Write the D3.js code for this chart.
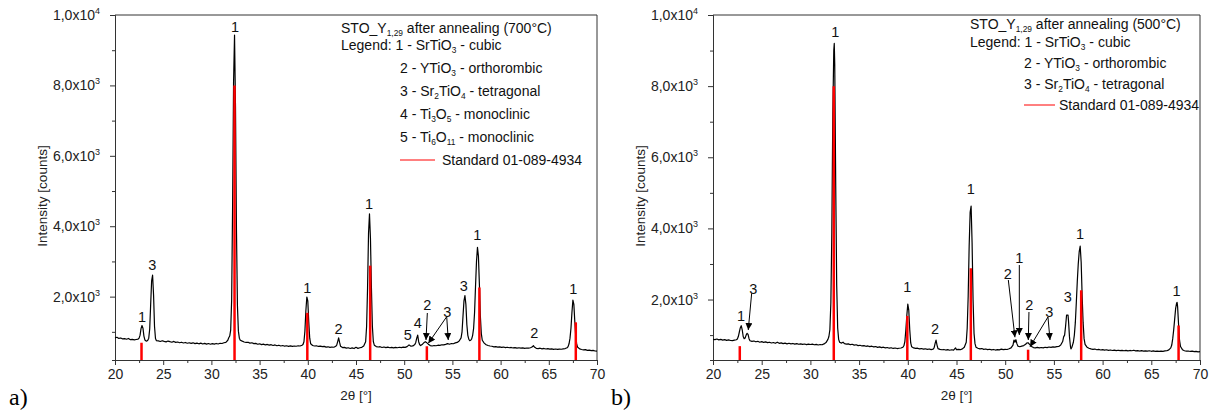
<!DOCTYPE html>
<html>
<head>
<meta charset="utf-8">
<script src="https://cdn.jsdelivr.net/npm/d3@7"></script>
<style>
body { margin: 0; background: #fff; }
svg { display: block; font-family: "Liberation Sans", Arial, sans-serif; }
</style>
</head>
<body>
<script>
// x ticks (2theta) and y ticks (intensity)
const xTicks = [20, 25, 30, 35, 40, 45, 50, 55, 60, 65, 70];
const xMinorTicks = [22.5, 27.5, 32.5, 37.5, 42.5, 47.5, 52.5, 57.5, 62.5, 67.5];
const yTicks = [2000, 4000, 6000, 8000, 10000];
const yMinorTicks = [1000, 3000, 5000, 7000, 9000];
const yTickMantissa = ["2,0", "4,0", "6,0", "8,0", "1,0"];
const yTickExp = ["3", "3", "3", "3", "4"];

// standard 01-089-4934 (SrTiO3) sticks
const stdTheta = [22.75, 32.4, 39.95, 46.47, 52.35, 57.8, 67.8];
const stdIntensity = [690, 8000, 1540, 2880, 590, 2260, 1270];

// measured scan, panel a (700°C)
const scanA = [
[20.0,830],[20.2,845],[20.4,812],[20.6,826],[20.8,798],[21.0,805],[21.2,790],[21.4,812],[21.6,778],[21.8,786],
[22.0,770],[22.2,782],[22.4,795],[22.5,820],[22.6,905],[22.7,1090],[22.8,1180],[22.9,1105],[23.0,880],[23.1,770],
[23.2,745],[23.3,738],[23.4,760],[23.5,820],[23.6,1080],[23.7,1780],[23.8,2450],[23.9,2610],[24.0,2050],[24.1,1150],
[24.2,810],[24.3,750],[24.5,742],[24.7,725],[24.9,748],[25.1,730],[25.3,715],[25.5,738],[25.7,720],[25.9,705],
[26.1,728],[26.3,700],[26.5,712],[26.7,690],[26.9,705],[27.1,684],[27.3,698],[27.5,676],[27.7,690],[27.9,672],
[28.1,688],[28.3,664],[28.5,680],[28.7,660],[28.9,678],[29.1,655],[29.3,672],[29.5,650],[29.7,668],[29.9,648],
[30.1,664],[30.3,652],[30.5,670],[30.7,655],[30.9,676],[31.1,668],[31.3,690],[31.5,702],[31.7,760],[31.8,830],
[31.9,880],[32.0,1050],[32.1,1900],[32.2,4600],[32.3,8100],[32.4,9430],[32.5,7400],[32.6,3900],[32.7,1750],[32.8,1020],
[32.9,820],[33.0,760],[33.2,735],[33.4,712],[33.6,698],[33.8,705],[34.0,680],[34.2,690],[34.4,665],[34.6,672],
[34.8,648],[35.0,660],[35.2,638],[35.4,650],[35.6,628],[35.8,642],[36.0,622],[36.2,635],[36.4,612],[36.6,628],
[36.8,605],[37.0,620],[37.2,598],[37.4,612],[37.6,592],[37.8,605],[38.0,588],[38.2,600],[38.4,585],[38.6,598],
[38.8,590],[39.0,605],[39.2,598],[39.4,620],[39.5,640],[39.6,720],[39.7,1020],[39.8,1600],[39.9,1990],[40.0,1880],
[40.1,1280],[40.2,820],[40.3,660],[40.5,612],[40.7,598],[40.9,605],[41.1,585],[41.3,596],[41.5,578],[41.7,588],
[41.9,566],[42.1,575],[42.3,558],[42.5,570],[42.7,562],[42.9,590],[43.0,620],[43.1,720],[43.2,830],[43.3,700],
[43.4,590],[43.6,552],[43.8,560],[44.0,538],[44.2,548],[44.4,528],[44.6,545],[44.8,525],[45.0,560],[45.2,530],
[45.4,548],[45.6,560],[45.8,600],[46.0,720],[46.1,1150],[46.2,2250],[46.3,3800],[46.4,4350],[46.5,3650],[46.6,2250],
[46.7,1150],[46.8,720],[46.9,620],[47.1,582],[47.3,570],[47.5,578],[47.7,556],[47.9,570],[48.1,552],[48.3,565],
[48.5,548],[48.7,560],[48.9,545],[49.1,558],[49.3,548],[49.5,562],[49.7,552],[49.9,566],[50.1,558],[50.3,580],
[50.5,630],[50.7,590],[50.9,600],[51.1,640],[51.2,700],[51.3,820],[51.4,905],[51.5,720],[51.6,640],[51.7,610],
[51.9,650],[52.0,680],[52.1,705],[52.2,720],[52.3,700],[52.5,650],[52.7,610],[52.9,598],[53.1,612],[53.3,605],
[53.5,620],[53.7,615],[53.9,632],[54.1,628],[54.3,645],[54.5,665],[54.7,648],[54.9,668],[55.1,662],[55.3,685],
[55.5,700],[55.7,740],[55.9,830],[56.0,1000],[56.1,1450],[56.2,1880],[56.3,2030],[56.4,1780],[56.5,1200],[56.6,900],
[56.7,790],[56.8,750],[56.9,760],[57.0,800],[57.1,900],[57.2,1100],[57.3,1550],[57.4,2300],[57.5,3000],[57.6,3400],
[57.7,3150],[57.8,2350],[57.9,1450],[58.0,950],[58.1,760],[58.3,680],[58.5,635],[58.7,612],[58.9,598],[59.1,590],
[59.3,575],[59.5,582],[59.7,566],[59.9,574],[60.1,560],[60.3,568],[60.5,552],[60.7,562],[60.9,548],[61.1,556],
[61.3,542],[61.5,552],[61.7,538],[61.9,548],[62.1,535],[62.3,545],[62.5,530],[62.7,540],[62.9,535],[63.1,548],
[63.3,575],[63.4,605],[63.5,570],[63.7,532],[63.9,525],[64.1,535],[64.3,518],[64.5,528],[64.7,512],[64.9,522],
[65.1,508],[65.3,518],[65.5,502],[65.7,512],[65.9,500],[66.1,510],[66.3,505],[66.5,518],[66.7,525],[66.9,548],
[67.0,580],[67.1,660],[67.2,820],[67.3,1100],[67.4,1550],[67.5,1900],[67.6,1780],[67.7,1280],[67.8,860],[67.9,640],
[68.0,560],[68.2,515],[68.4,498],[68.6,488],[68.8,495],[69.0,475],[69.2,482],[69.4,465],[69.6,472],[69.8,455],[70.0,450]
];

// measured scan, panel b (500°C)
const scanB = [
[20.0,880],[20.2,872],[20.4,890],[20.6,865],[20.8,878],[21.0,860],[21.2,874],[21.4,852],[21.6,866],[21.8,848],
[22.0,845],[22.2,858],[22.4,870],[22.5,890],[22.6,960],[22.7,1080],[22.8,1200],[22.9,1265],[23.0,1150],[23.1,960],
[23.2,900],[23.3,920],[23.4,1000],[23.5,1050],[23.6,1020],[23.7,900],[23.8,840],[24.0,822],[24.2,835],[24.4,812],
[24.6,825],[24.8,800],[25.0,815],[25.2,795],[25.4,808],[25.6,788],[25.8,800],[26.0,778],[26.2,792],[26.4,770],
[26.6,800],[26.8,768],[27.0,780],[27.2,760],[27.4,774],[27.6,755],[27.8,770],[28.0,752],[28.2,765],[28.4,745],
[28.6,760],[28.8,742],[29.0,755],[29.2,738],[29.4,750],[29.6,732],[29.8,748],[30.0,735],[30.2,745],[30.4,728],
[30.6,740],[30.8,722],[31.0,735],[31.2,728],[31.4,752],[31.6,790],[31.8,880],[31.9,960],[32.0,1150],[32.1,1900],
[32.2,3900],[32.3,7200],[32.4,9000],[32.45,9200],[32.5,8600],[32.6,5200],[32.7,2400],[32.8,1200],[32.9,880],[33.0,800],
[33.2,775],[33.35,800],[33.5,760],[33.7,745],[33.9,752],[34.1,730],[34.3,742],[34.5,718],[34.7,728],[34.9,705],
[35.1,715],[35.3,695],[35.5,705],[35.7,685],[35.9,695],[36.1,675],[36.3,688],[36.5,668],[36.7,678],[36.9,655],
[37.1,668],[37.3,648],[37.5,660],[37.7,640],[37.9,652],[38.1,632],[38.3,645],[38.5,625],[38.7,638],[38.9,622],
[39.1,630],[39.3,638],[39.5,660],[39.6,700],[39.7,820],[39.8,1150],[39.9,1550],[40.0,1870],[40.1,1700],[40.2,1150],
[40.3,780],[40.4,670],[40.6,640],[40.8,625],[41.0,632],[41.2,612],[41.4,622],[41.6,605],[41.8,615],[42.0,598],
[42.2,610],[42.4,592],[42.6,605],[42.7,640],[42.8,760],[42.9,860],[43.0,720],[43.1,620],[43.3,598],[43.5,588],
[43.7,596],[43.9,580],[44.1,590],[44.3,575],[44.5,588],[44.7,580],[44.9,640],[45.0,590],[45.2,598],[45.4,590],
[45.6,612],[45.8,660],[46.0,800],[46.1,1200],[46.2,2100],[46.3,3500],[46.4,4450],[46.5,4630],[46.6,3600],[46.7,2000],
[46.8,1050],[46.9,760],[47.0,660],[47.2,630],[47.4,612],[47.6,622],[47.8,600],[48.0,610],[48.2,590],[48.4,602],
[48.6,585],[48.8,596],[49.0,580],[49.2,592],[49.4,585],[49.6,605],[49.8,590],[50.0,600],[50.2,595],[50.4,615],
[50.6,640],[50.8,720],[50.9,860],[51.0,800],[51.1,870],[51.2,760],[51.3,690],[51.5,672],[51.7,690],[51.9,705],
[52.1,740],[52.2,775],[52.35,785],[52.5,740],[52.7,680],[52.9,650],[53.1,640],[53.3,655],[53.5,642],[53.7,652],
[53.9,640],[54.1,658],[54.3,648],[54.5,665],[54.7,655],[54.9,668],[55.1,660],[55.3,675],[55.5,680],[55.7,720],
[55.9,820],[56.0,950],[56.1,1000],[56.2,1250],[56.3,1560],[56.45,1565],[56.5,1400],[56.6,950],[56.7,680],[56.75,610],
[56.85,660],[57.0,800],[57.1,1000],[57.2,1350],[57.3,1900],[57.4,2500],[57.5,3000],[57.6,3350],[57.7,3500],[57.8,3050],
[57.9,2100],[58.0,1350],[58.1,900],[58.2,740],[58.4,660],[58.6,630],[58.8,612],[59.0,600],[59.2,608],[59.4,588],
[59.6,598],[59.8,582],[60.0,592],[60.2,578],[60.4,588],[60.6,572],[60.8,582],[61.0,568],[61.2,578],[61.4,565],
[61.6,575],[61.8,562],[62.0,572],[62.2,560],[62.4,570],[62.6,558],[62.8,568],[63.0,560],[63.2,575],[63.4,558],
[63.6,565],[63.8,552],[64.0,562],[64.2,548],[64.4,558],[64.6,550],[64.8,560],[65.0,545],[65.2,555],[65.4,542],
[65.6,552],[65.8,545],[66.0,548],[66.2,545],[66.4,555],[66.6,560],[66.8,585],[67.0,640],[67.1,720],[67.2,900],
[67.3,1150],[67.4,1450],[67.5,1750],[67.6,1900],[67.65,1920],[67.7,1800],[67.8,1300],[67.9,850],[68.0,680],[68.2,590],
[68.4,560],[68.6,548],[68.8,552],[69.0,540],[69.2,548],[69.4,535],[69.6,542],[69.8,530],[70.0,535]
];

// peak labels: text, 2theta, intensity
const peakLabelsA = [
  ["1", 22.8, 1430], ["3", 23.87, 2900], ["1", 32.45, 9670], ["1", 39.95, 2265], ["2", 43.2, 1100],
  ["1", 46.35, 4650], ["5", 50.36, 910], ["4", 51.4, 1260], ["2", 52.4, 1760], ["3", 54.47, 1570],
  ["3", 56.17, 2310], ["1", 57.58, 3750], ["2", 63.5, 975], ["1", 67.55, 2215]
];
const peakLabelsB = [
  ["1", 22.87, 1540], ["3", 24.14, 2315], ["1", 32.56, 9530], ["1", 39.95, 2345], ["2", 42.8, 1190],
  ["1", 46.46, 5100], ["2", 50.26, 2720], ["1", 51.45, 3160], ["2", 52.48, 1845], ["3", 54.53, 1660],
  ["3", 56.42, 2065], ["1", 57.68, 3860], ["1", 67.6, 2250]
];
// arrows: from (2theta, I) to (2theta, I)
const arrowsA = [
  [52.4, 1535, 52.26, 768], [54.41, 1430, 52.5, 674], [54.41, 1430, 54.57, 768]
];
const arrowsB = [
  [23.97, 2175, 23.62, 1143], [50.32, 2549, 51.0, 938], [51.45, 2970, 51.45, 1003],
  [52.44, 1649, 52.37, 862], [54.39, 1509, 52.55, 674], [54.39, 1509, 54.6, 862]
];

// legend texts: [text, "sub" or ""] segments
const titleA = [["STO_Y", ""], ["1,29", "sub"], [" after annealing (700°C)", ""]];
const titleB = [["STO_Y", ""], ["1,29", "sub"], [" after annealing (500°C)", ""]];
const legendHead = [["Legend: 1 - SrTiO", ""], ["3", "sub"], [" - cubic", ""]];
const phasesA = [
  [["2 - YTiO", ""], ["3", "sub"], [" - orthorombic", ""]],
  [["3 - Sr", ""], ["2", "sub"], ["TiO", ""], ["4", "sub"], [" - tetragonal", ""]],
  [["4 - Ti", ""], ["3", "sub"], ["O", ""], ["5", "sub"], [" - monoclinic", ""]],
  [["5 - Ti", ""], ["6", "sub"], ["O", ""], ["11", "sub"], [" - monoclinic", ""]]
];
const phasesB = phasesA.slice(0, 2);
const stdName = "Standard 01-089-4934";

var svg = d3.select('body').append('svg')
  .attr('width', 1213)
  .attr('height', 414);

svg.append('defs').append('marker')
  .attr('id', 'arrow')
  .attr('viewBox', '0 0 10 10')
  .attr('refX', 10).attr('refY', 5)
  .attr('markerWidth', 7).attr('markerHeight', 7)
  .attr('markerUnits', 'userSpaceOnUse')
  .attr('orient', 'auto')
  .append('path')
  .attr('d', 'M0,0L10,5L0,10Z')
  .attr('fill', '#000');

function richText(sel, parts, fs) {
  let shift = 0;
  parts.forEach(function(p) {
    let t = sel.append('tspan').text(p[0]);
    if (p[1] == 'sub') {
      t.attr('font-size', fs * 0.6).attr('dy', 3 - shift);
      shift = 3;
    } else {
      t.attr('dy', -shift);
      shift = 0;
    }
  });
}

function drawPanel(p) {
  var g = svg.append('g');
  var x = d3.scaleLinear().domain([20, 70]).range([p.left, p.right]);
  var y = d3.scaleLinear().domain(p.yDomain).range([p.bottom, p.top]);

  // frame
  g.append('path')
    .attr('d', 'M' + p.left + ',' + p.top + 'H' + p.right + 'V' + p.bottom)
    .attr('fill', 'none').attr('stroke', '#333').attr('stroke-width', 1);

  // axes
  var xAxis = d3.axisBottom(x).tickValues(xTicks).tickSize(5).tickSizeOuter(0).tickPadding(4);
  var xMinor = d3.axisBottom(x).tickValues(xMinorTicks).tickSize(3).tickFormat('');
  var yAxis = d3.axisLeft(y).tickValues(yTicks).tickSize(5).tickSizeOuter(0).tickPadding(4)
    .tickFormat(function(d, i) { return yTickMantissa[i] + 'x10'; });
  var yMinor = d3.axisLeft(y).tickValues(yMinorTicks).tickSize(3).tickFormat('');

  g.append('g').attr('transform', 'translate(0,' + p.bottom + ')').call(xAxis);
  g.append('g').attr('transform', 'translate(0,' + p.bottom + ')').call(xMinor);
  var ya = g.append('g').attr('transform', 'translate(' + p.left + ',0)').call(yAxis);
  g.append('g').attr('transform', 'translate(' + p.left + ',0)').call(yMinor);
  ya.selectAll('.tick text').each(function(d, i) {
    d3.select(this).attr('dx', -6)
      .append('tspan').text(yTickExp[i])
      .attr('font-size', 9).attr('dy', -6);
  });
  g.selectAll('.domain').attr('stroke', '#333');
  g.selectAll('.tick line').attr('stroke', '#333');
  g.selectAll('.tick text').attr('font-size', 14).attr('fill', '#222')
    .attr('font-family', '"Liberation Sans", Arial, sans-serif');

  // axis titles
  g.append('text')
    .attr('x', (p.left + p.right) / 2).attr('y', 400)
    .attr('text-anchor', 'middle').attr('font-size', 13.5).attr('fill', '#222')
    .text('2θ [°]');
  g.append('text')
    .attr('transform', 'translate(' + (p.left - 68) + ',196) rotate(-90)')
    .attr('text-anchor', 'middle').attr('font-size', 13.5).attr('fill', '#222')
    .text('Intensity [counts]');

  // scan
  var line = d3.line().x(function(d) { return x(d[0]); }).y(function(d) { return y(d[1]); });
  g.append('path').datum(p.scan)
    .attr('d', line).attr('fill', 'none')
    .attr('stroke', '#000').attr('stroke-width', 1.2).attr('stroke-linejoin', 'round');

  // standard sticks
  g.selectAll('.stick').data(stdTheta).enter().append('line')
    .attr('x1', function(d) { return x(d); }).attr('x2', function(d) { return x(d); })
    .attr('y1', y(p.yDomain[0]))
    .attr('y2', function(d, i) { return y(stdIntensity[i]); })
    .attr('stroke', '#f00').attr('stroke-width', 2.5);

  // peak labels and arrows
  g.selectAll('.plabel').data(p.labels).enter().append('text')
    .attr('x', function(d) { return x(d[1]); })
    .attr('y', function(d) { return y(d[2]); })
    .attr('dy', '0.36em').attr('text-anchor', 'middle')
    .attr('font-size', 14.5).attr('fill', '#111')
    .text(function(d) { return d[0]; });
  g.selectAll('.arrow').data(p.arrows).enter().append('line')
    .attr('x1', function(d) { return x(d[0]); }).attr('y1', function(d) { return y(d[1]); })
    .attr('x2', function(d) { return x(d[2]); }).attr('y2', function(d) { return y(d[3]); })
    .attr('stroke', '#000').attr('stroke-width', 1).attr('marker-end', 'url(#arrow)');

  // legend block
  var lg = g.append('g').attr('font-size', 14).attr('fill', '#111');
  richText(lg.append('text').attr('x', p.legX).attr('y', p.legY), p.title, 14);
  richText(lg.append('text').attr('x', p.legX).attr('y', p.legY + p.legStep0), legendHead, 14);
  p.phases.forEach(function(ph, i) {
    richText(lg.append('text').attr('x', p.itemX).attr('y', p.legY + p.legStep0 + (i + 1) * p.legStep), ph, 14);
  });
  var sy = p.legY + p.legStep0 + (p.phases.length + 1) * p.legStep;
  lg.append('line')
    .attr('x1', p.itemX).attr('x2', p.itemX + p.stdLen)
    .attr('y1', sy - 5).attr('y2', sy - 5)
    .attr('stroke', '#f00').attr('stroke-width', 1);
  lg.append('text').attr('x', p.itemX + p.stdLen + p.stdGap).attr('y', sy).text(stdName);

  // panel letter
  g.append('text')
    .attr('x', p.letterX).attr('y', 405)
    .attr('font-family', '"Liberation Serif", "Times New Roman", serif')
    .attr('font-size', 24).attr('fill', '#000')
    .text(p.letter);
}

drawPanel({
  left: 115, right: 597, top: 15, bottom: 360, yDomain: [200, 10000],
  scan: scanA, labels: peakLabelsA, arrows: arrowsA,
  title: titleA, phases: phasesA,
  legX: 341, itemX: 400, legY: 33, legStep0: 17, legStep: 23, stdLen: 35, stdGap: 7,
  letter: 'a)', letterX: 9
});
drawPanel({
  left: 713, right: 1200, top: 15, bottom: 360, yDomain: [300, 10000],
  scan: scanB, labels: peakLabelsB, arrows: arrowsB,
  title: titleB, phases: phasesB,
  legX: 970, itemX: 1024, legY: 29, legStep0: 18, legStep: 21, stdLen: 31, stdGap: 4,
  letter: 'b)', letterX: 611
});
</script>
</body>
</html>
